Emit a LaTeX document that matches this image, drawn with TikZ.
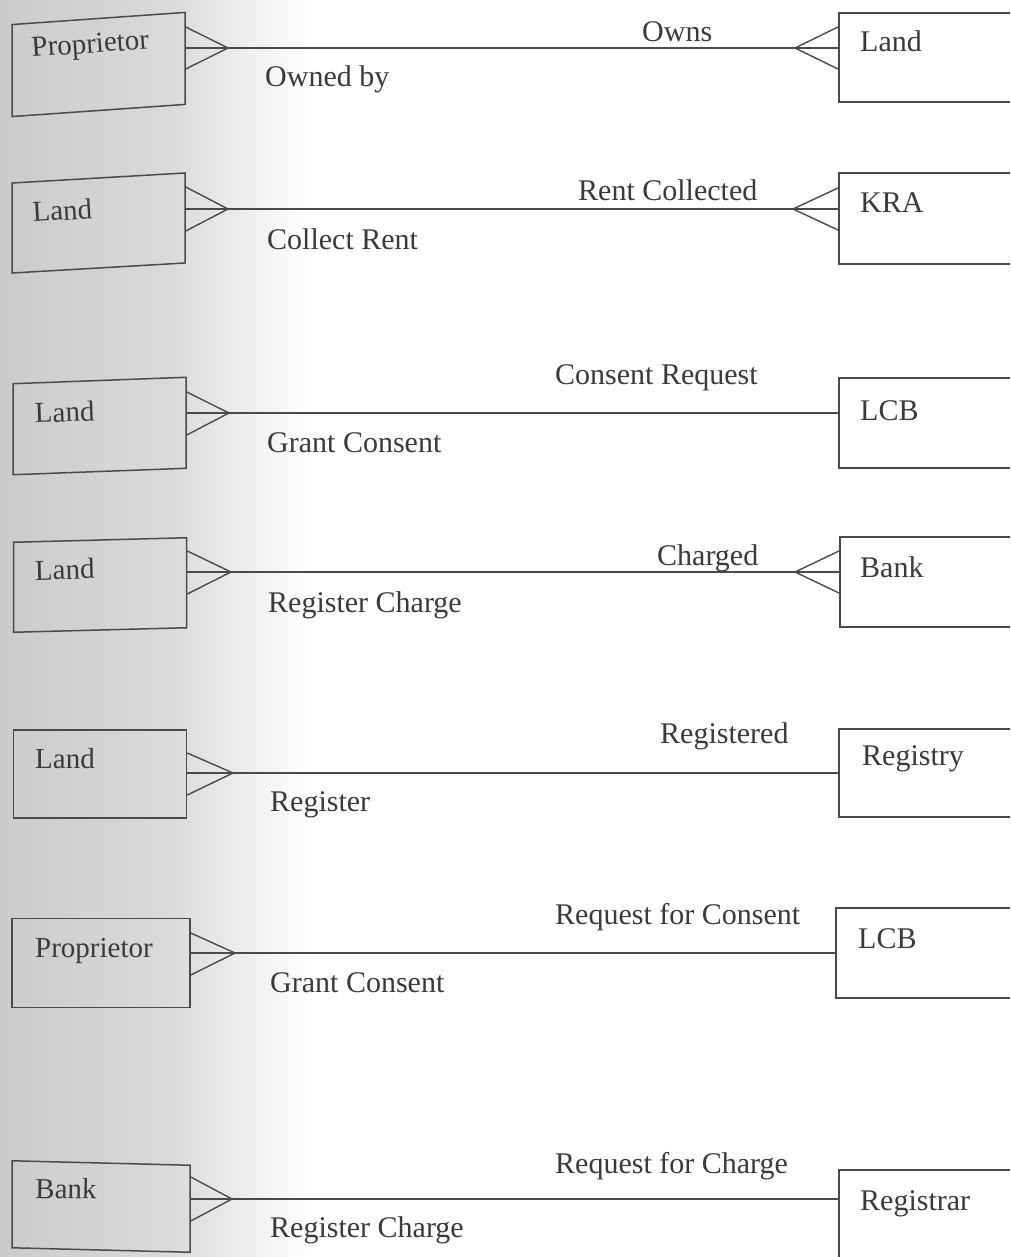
\documentclass[tikz,border=0pt]{standalone}
\usepackage{fontspec}
\setmainfont{Liberation Serif}
\usetikzlibrary{calc}
\definecolor{ink}{HTML}{3A3A3A}
\definecolor{edge}{HTML}{4A4A4A}
\definecolor{shadeA}{HTML}{CBCBCB}
\definecolor{shadeB}{HTML}{DADADA}
\begin{document}
\begin{tikzpicture}[x=1pt,y=-1pt,
  lbox/.style={draw=edge, line width=1.5pt, minimum width=173pt, minimum height=#1, inner sep=0pt},
  rbox/.style={draw=edge, line width=1.5pt, minimum width=220pt, minimum height=#1, inner sep=0pt, anchor=west},
  conn/.style={draw=edge, line width=1.4pt},
  crow/.style={draw=edge, line width=1.4pt},
  txt/.style={text=ink, font=\fontsize{30}{36}\selectfont, inner sep=0pt, anchor=base west},
  ltxt/.style={text=ink, font=\fontsize{29}{35}\selectfont, inner sep=0pt, anchor=base west}]
\useasboundingbox (0,0) rectangle (1010,1257);
\clip (0,0) rectangle (1010,1257);
\fill[white] (0,0) rectangle (1010,1257);
\shade[left color=shadeA, right color=shadeB] (0,0) rectangle (170,1257);
\shade[left color=shadeB, right color=white] (170,0) rectangle (310,1257);

% ---------- Row 1
\node[lbox=92pt, yslant=0.07] (L1) at (98.5,64.5) {};
\node[ltxt, rotate=4] (L1t) at (32,57) {Proprietor};
\node[rbox=89pt] (R1) at (838,57.5) {};
\node[txt] (R1t) at (860,52) {Land};
\coordinate (t1) at (228,48);
\coordinate (u1) at (795,48);
\coordinate (a1) at (L1.east|-t1);
\coordinate (b1) at (R1.west|-t1);
\draw[conn] (a1) -- (b1);
\draw[crow] ($(a1)+(0,-21)$) -- (t1) -- ($(a1)+(0,21)$);
\draw[crow] ($(b1)+(0,-21)$) -- (u1) -- ($(b1)+(0,21)$);
\node[txt] (m1a) at (642,42) {Owns};
\node[txt] (m1b) at (265,87) {Owned by};

% ---------- Row 2
\node[lbox=90pt, yslant=0.058] (L2) at (98.5,223) {};
\node[ltxt, rotate=3.3] (L2t) at (33,222) {Land};
\node[rbox=91pt] (R2) at (838,218.5) {};
\node[txt] (R2t) at (860,213) {KRA};
\coordinate (t2) at (228,209);
\coordinate (u2) at (793,209);
\coordinate (a2) at (L2.east|-t2);
\coordinate (b2) at (R2.west|-t2);
\draw[conn] (a2) -- (b2);
\draw[crow] ($(a2)+(0,-22)$) -- (t2) -- ($(a2)+(0,22)$);
\draw[crow] ($(b2)+(0,-21)$) -- (u2) -- ($(b2)+(0,21)$);
\node[txt] (m2a) at (578,201) {Rent Collected};
\node[txt] (m2b) at (267,249) {Collect Rent};

% ---------- Row 3
\node[lbox=91pt, yslant=0.037] (L3) at (99.5,426) {};
\node[ltxt, rotate=2] (L3t) at (35,423) {Land};
\node[rbox=90pt] (R3) at (838,423) {};
\node[txt] (R3t) at (860,420) {LCB};
\coordinate (t3) at (229,413);
\coordinate (a3) at (L3.east|-t3);
\coordinate (b3) at (R3.west|-t3);
\draw[conn] (a3) -- (b3);
\draw[crow] ($(a3)+(0,-21)$) -- (t3) -- ($(a3)+(0,22)$);
\node[txt] (m3a) at (555,384) {Consent Request};
\node[txt] (m3b) at (267,452) {Grant Consent};

% ---------- Row 4
\node[lbox=90pt, yslant=0.026] (L4) at (100,585) {};
\node[ltxt, rotate=1.5] (L4t) at (35,580) {Land};
\node[rbox=90pt] (R4) at (839,582) {};
\node[txt] (R4t) at (860,577) {Bank};
\coordinate (t4) at (231,572);
\coordinate (u4) at (795,572);
\coordinate (a4) at (L4.east|-t4);
\coordinate (b4) at (R4.west|-t4);
\draw[conn] (a4) -- (b4);
\draw[crow] ($(a4)+(0,-21)$) -- (t4) -- ($(a4)+(0,22)$);
\draw[crow] ($(b4)+(0,-21)$) -- (u4) -- ($(b4)+(0,21)$);
\node[txt] (m4a) at (657,565) {Charged};
\node[txt] (m4b) at (268,612) {Register Charge};

% ---------- Row 5
\node[lbox=88pt] (L5) at (100,774) {};
\node[ltxt] (L5t) at (35,768) {Land};
\node[rbox=88pt] (R5) at (838,773) {};
\node[txt] (R5t) at (862,765) {Registry};
\coordinate (t5) at (233,773);
\coordinate (a5) at (L5.east|-t5);
\coordinate (b5) at (R5.west|-t5);
\draw[conn] (a5) -- (b5);
\draw[crow] ($(a5)+(0,-20)$) -- (t5) -- ($(a5)+(0,22)$);
\node[txt] (m5a) at (660,743) {Registered};
\node[txt] (m5b) at (270,811) {Register};

% ---------- Row 6
\node[lbox=89pt, minimum width=178pt] (L6) at (101,963) {};
\node[ltxt] (L6t) at (35,957) {Proprietor};
\node[rbox=90pt] (R6) at (835,953) {};
\node[txt] (R6t) at (858,948) {LCB};
\coordinate (t6) at (235,953);
\coordinate (a6) at (L6.east|-t6);
\coordinate (b6) at (R6.west|-t6);
\draw[conn] (a6) -- (b6);
\draw[crow] ($(a6)+(0,-20)$) -- (t6) -- ($(a6)+(0,22)$);
\node[txt] (m6a) at (555,924) {Request for Consent};
\node[txt] (m6b) at (270,992) {Grant Consent};

% ---------- Row 7
\node[lbox=87pt, minimum width=178pt, yslant=-0.025] (L7) at (101,1206.5) {};
\node[ltxt, rotate=-1.2] (L7t) at (35,1198) {Bank};
\node[rbox=100pt] (R7) at (838,1220) {};
\node[txt] (R7t) at (860,1210) {Registrar};
\coordinate (t7) at (232,1199);
\coordinate (a7) at (L7.east|-t7);
\coordinate (b7) at (R7.west|-t7);
\draw[conn] (a7) -- (b7);
\draw[crow] ($(a7)+(0,-22)$) -- (t7) -- ($(a7)+(0,22)$);
\node[txt] (m7a) at (555,1173) {Request for Charge};
\node[txt] (m7b) at (270,1237) {Register Charge};
\end{tikzpicture}
\end{document}
